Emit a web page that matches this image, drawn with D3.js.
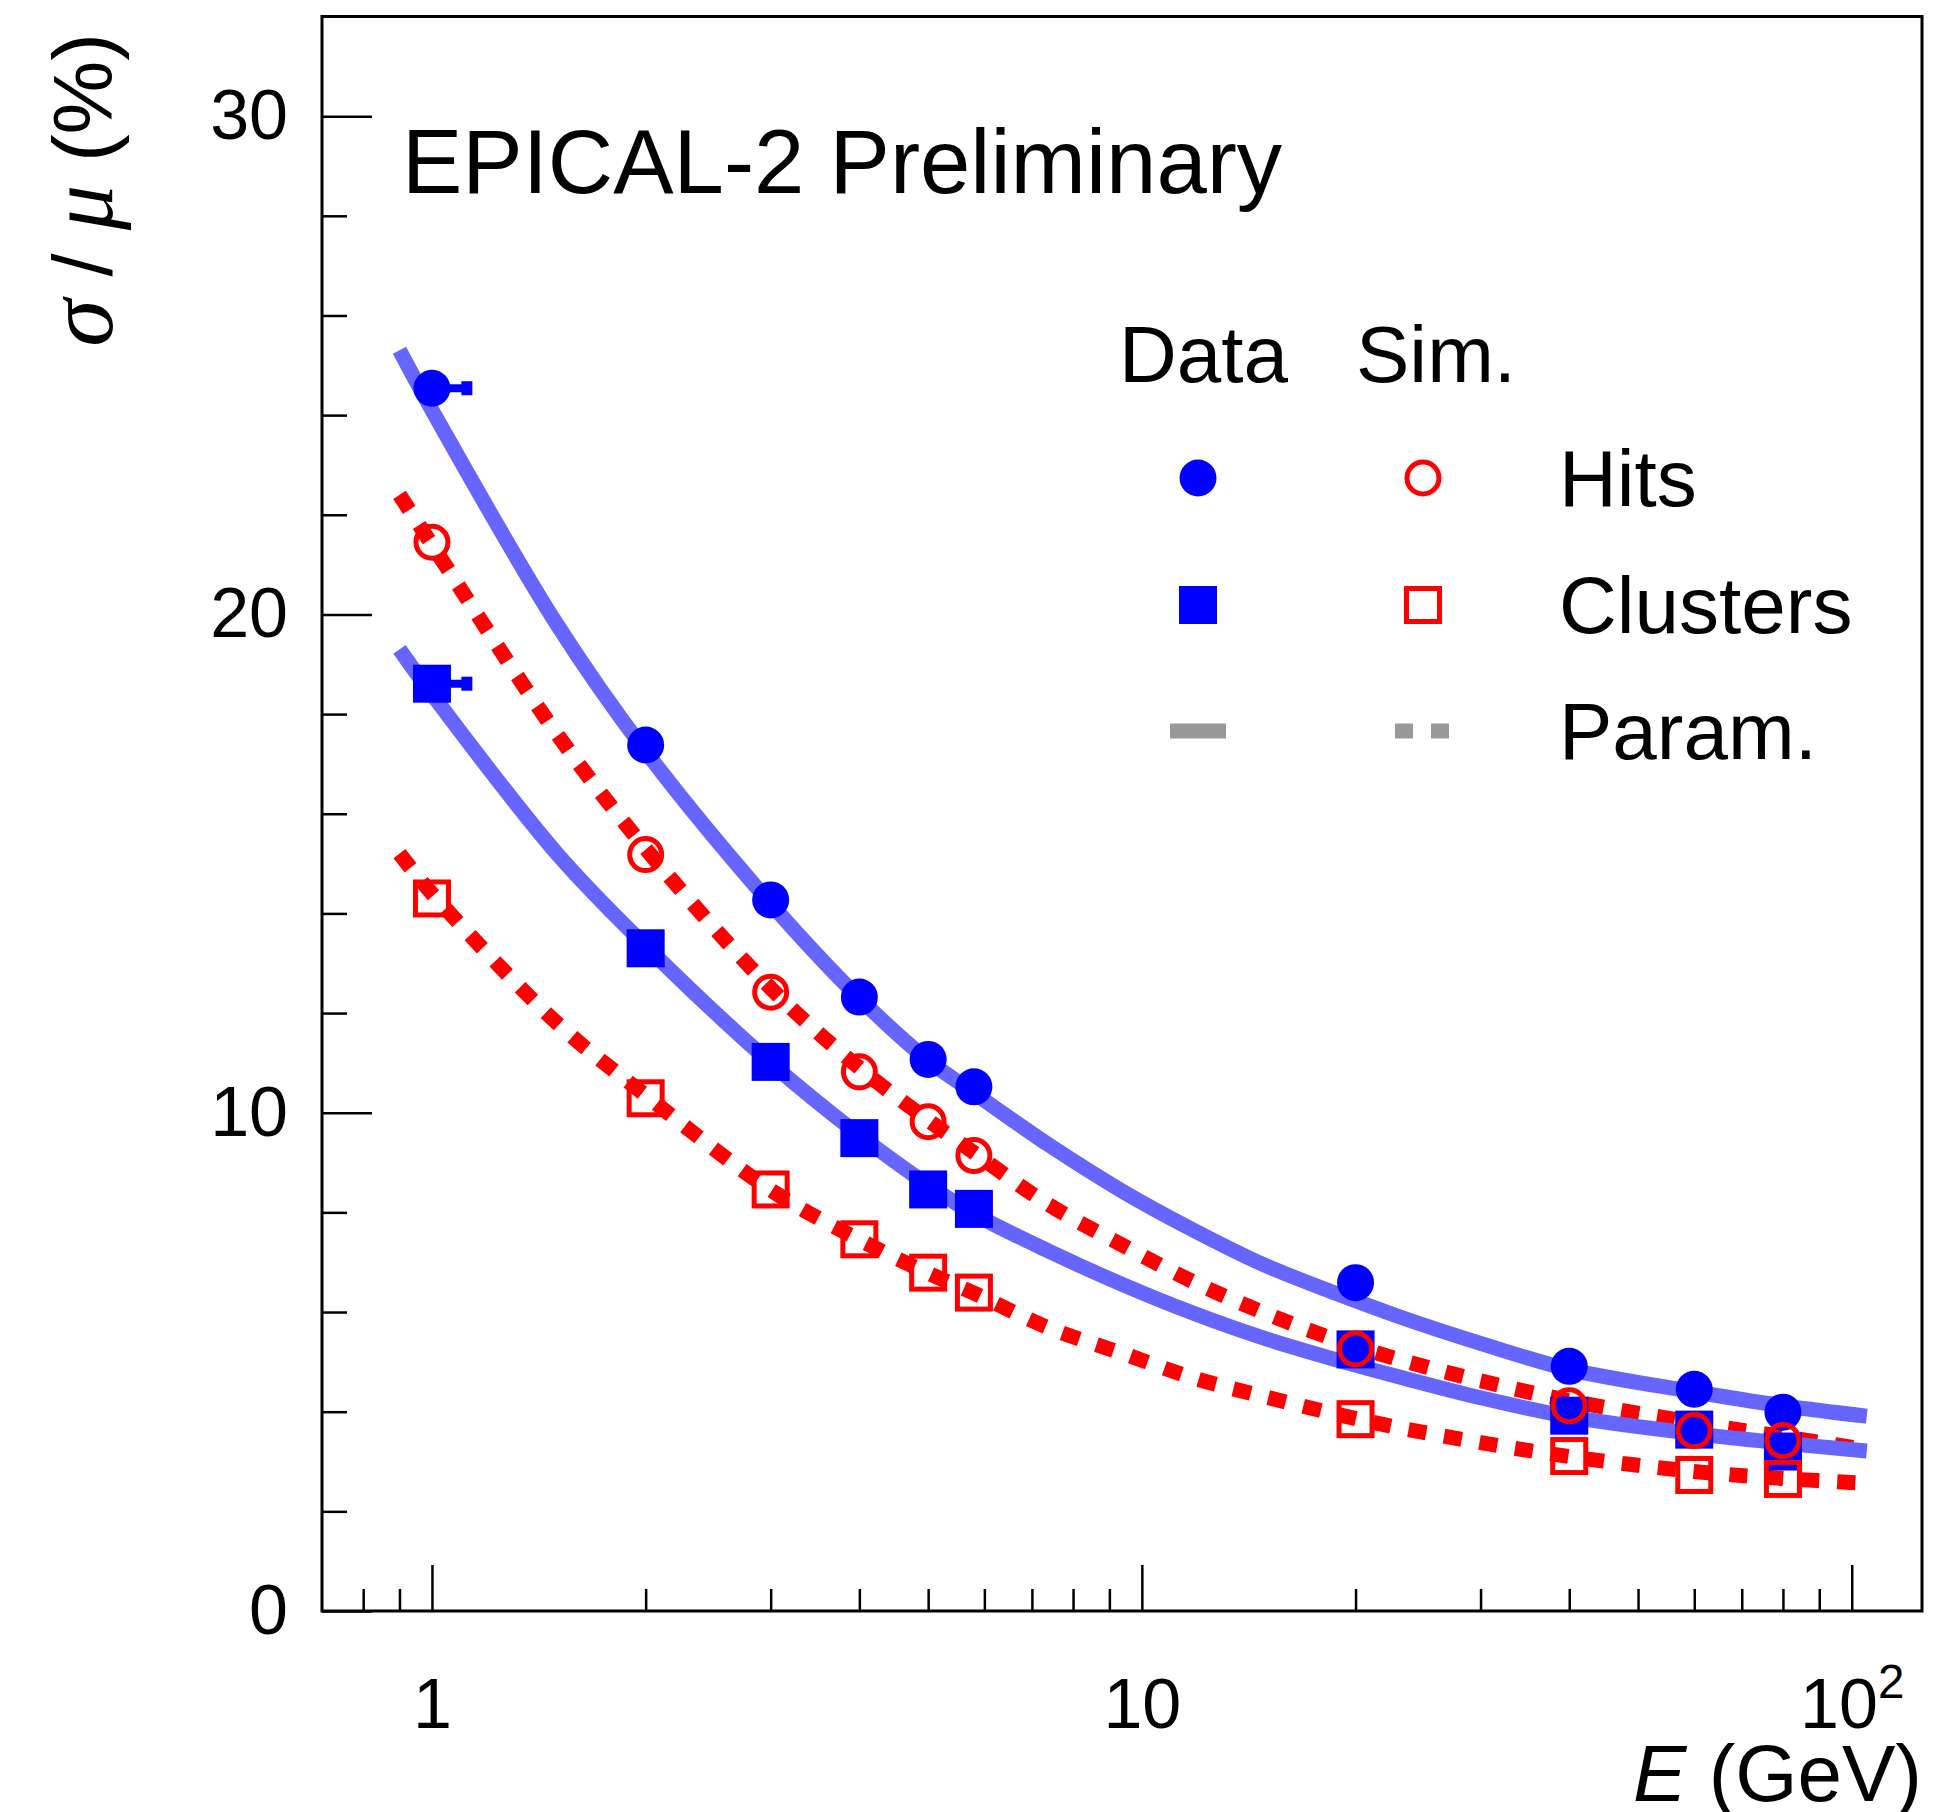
<!DOCTYPE html>
<html>
<head>
<meta charset="utf-8">
<script src="https://cdn.jsdelivr.net/npm/d3@7"></script>
<style>
  body { margin: 0; background: #fff; }
  text { font-family: "Liberation Sans", Arial, Helvetica, sans-serif; }
</style>
</head>
<body>
<script>
// beam energies (GeV) and resolutions (%)
var energies = [1, 2, 3, 4, 5, 5.8, 20, 40, 60, 80];
var dataHits = [24.54, 17.38, 14.27, 12.32, 11.07, 10.52, 6.59, 4.91, 4.45, 3.99];
var dataClusters = [18.61, 13.30, 11.02, 9.49, 8.46, 8.07, 5.25, 3.92, 3.64, 3.20];
var simHits = [21.45, 15.18, 12.42, 10.82, 9.82, 9.14, 5.26, 4.12, 3.62, 3.42];
var simClusters = [14.30, 10.29, 8.46, 7.46, 6.79, 6.39, 3.85, 3.11, 2.73, 2.65];
// upper x error, only visible at 1 GeV
var dataXErrUp = [0.14, 0, 0, 0, 0, 0, 0, 0, 0, 0];

// parametrisation curves
var paramE = [0.9, 1, 1.5, 2, 3, 4, 5, 5.8, 7.4, 9.4, 11.8, 14.9, 18.8, 23, 30, 40, 60, 80, 105];
var paramDataHits = [25.3, 24.1, 19.8, 17.25, 14.2, 12.3, 11.05, 10.40, 9.35, 8.42, 7.65, 6.94, 6.37, 5.91, 5.37, 4.85, 4.40, 4.12, 3.91];
var paramDataClusters = [19.3, 18.4, 15.2, 13.35, 11.0, 9.55, 8.55, 7.97, 7.22, 6.55, 5.98, 5.47, 5.04, 4.70, 4.28, 3.90, 3.56, 3.37, 3.21];
var paramSimHits = [22.4, 21.4, 17.6, 15.3, 12.5, 10.9, 9.85, 9.2, 8.15, 7.34, 6.61, 5.98, 5.44, 5.05, 4.62, 4.22, 3.78, 3.50, 3.24];
var paramSimClusters = [15.2, 14.4, 11.8, 10.35, 8.45, 7.45, 6.78, 6.38, 5.68, 5.17, 4.68, 4.30, 3.95, 3.68, 3.38, 3.10, 2.80, 2.66, 2.56];

var yMajor = [0, 10, 20, 30];
var yMinor = [2, 4, 6, 8, 12, 14, 16, 18, 22, 24, 26, 28];
var xMajor = [1, 10, 100];
var xMinor = [0.8, 0.9, 2, 3, 4, 5, 6, 7, 8, 9, 20, 30, 40, 50, 60, 70, 80, 90];

var width = 1957, height = 1812;
var margin = {top: 16.5, right: 35, bottom: 201, left: 322};

var svg = d3.select("body").append("svg")
    .attr("width", width)
    .attr("height", height);

var x = d3.scaleLog()
    .domain([0.7, 125.6])
    .range([margin.left, width - margin.right]);

var y = d3.scaleLinear()
    .domain([0, 32])
    .range([height - margin.bottom, margin.top]);

var blueLine = "#6666ff", blue = "#0000ff", red = "#ff0000", grey = "#999999";

// axes
var yAxis = svg.append("g")
    .attr("transform", "translate(" + margin.left + ",0)")
    .call(d3.axisLeft(y).tickValues(yMajor).tickSize(-50).tickPadding(34));
var yAxisMinor = svg.append("g")
    .attr("transform", "translate(" + margin.left + ",0)")
    .call(d3.axisLeft(y).tickValues(yMinor).tickSize(-25).tickFormat(""));

var xAxis = svg.append("g")
    .attr("transform", "translate(0," + (height - margin.bottom) + ")")
    .call(d3.axisBottom(x).tickValues(xMajor).tickSize(-46).tickPadding(67)
      .tickFormat(function(d) { return d === 100 ? "10" : d; }));
var xAxisMinor = svg.append("g")
    .attr("transform", "translate(0," + (height - margin.bottom) + ")")
    .call(d3.axisBottom(x).tickValues(xMinor).tickSize(-22).tickFormat(""));

[yAxis, yAxisMinor, xAxis, xAxisMinor].forEach(function(g) {
  g.select(".domain").remove();
  g.selectAll(".tick line").attr("stroke", "#000").attr("stroke-width", 2.5);
  g.selectAll(".tick text").attr("font-size", 70).attr("fill", "#000")
    .attr("font-family", "Liberation Sans, Arial, sans-serif");
});
xAxis.selectAll(".tick text").filter(function(d) { return d === 100; })
    .append("tspan")
    .attr("dy", "-0.62em")
    .attr("font-size", "0.68em")
    .text("2");

// frame
svg.append("rect")
    .attr("x", margin.left)
    .attr("y", margin.top)
    .attr("width", width - margin.left - margin.right)
    .attr("height", height - margin.top - margin.bottom)
    .attr("fill", "none")
    .attr("stroke", "#000")
    .attr("stroke-width", 3);

// curves
var line = d3.line()
    .x(function(d) { return x(d[0]); })
    .y(function(d) { return y(d[1]); })
    .curve(d3.curveCatmullRom.alpha(0.5));

function drawParam(values, color, dashed) {
  var p = svg.append("path")
      .datum(d3.zip(paramE, values))
      .attr("d", line)
      .attr("fill", "none")
      .attr("stroke", color)
      .attr("stroke-width", 15);
  if (dashed) p.attr("stroke-dasharray", "18,18");
}
drawParam(paramSimHits, red, true);
drawParam(paramSimClusters, red, true);
drawParam(paramDataHits, blueLine, false);
drawParam(paramDataClusters, blueLine, false);

// error bars on data
function drawXErr(values) {
  energies.forEach(function(e, i) {
    if (dataXErrUp[i] <= 0) return;
    var x0 = x(e), x1 = x(e + dataXErrUp[i]), yy = y(values[i]);
    svg.append("line")
        .attr("x1", x0).attr("x2", x1 - 5)
        .attr("y1", yy).attr("y2", yy)
        .attr("stroke", blue).attr("stroke-width", 8);
    svg.append("rect")
        .attr("x", x1 - 11).attr("y", yy - 7)
        .attr("width", 11).attr("height", 14)
        .attr("fill", blue);
  });
}
drawXErr(dataHits);
drawXErr(dataClusters);

// markers
function circles(values, filled) {
  svg.append("g").selectAll("circle")
    .data(d3.zip(energies, values))
    .enter().append("circle")
      .attr("cx", function(d) { return x(d[0]); })
      .attr("cy", function(d) { return y(d[1]); })
      .attr("r", filled ? 18.5 : 16)
      .attr("fill", filled ? blue : "none")
      .attr("stroke", filled ? "none" : red)
      .attr("stroke-width", 5);
}
function squares(values, filled) {
  var s = filled ? 38 : 33;
  svg.append("g").selectAll("rect")
    .data(d3.zip(energies, values))
    .enter().append("rect")
      .attr("x", function(d) { return x(d[0]) - s / 2; })
      .attr("y", function(d) { return y(d[1]) - s / 2; })
      .attr("width", s)
      .attr("height", s)
      .attr("fill", filled ? blue : "none")
      .attr("stroke", filled ? "none" : red)
      .attr("stroke-width", 5);
}
squares(dataClusters, true);
circles(dataHits, true);
circles(simHits, false);
squares(simClusters, false);

// texts
svg.append("text")
    .attr("x", 402).attr("y", 193)
    .attr("font-size", 90.5)
    .text("EPICAL-2 Preliminary");

var xt = svg.append("text")
    .attr("x", width - margin.right).attr("y", 1801)
    .attr("text-anchor", "end")
    .attr("font-size", 80);
xt.append("tspan").attr("font-style", "italic").text("E");
xt.append("tspan").text(" (GeV)");

var yt = svg.append("text")
    .attr("transform", "translate(112,33) rotate(-90)")
    .attr("text-anchor", "end")
    .attr("font-size", 83);
yt.append("tspan").attr("font-family", "Liberation Serif, serif").attr("font-style", "italic")
    .attr("font-size", 96).text("\u03c3");
yt.append("tspan").text(" / ");
yt.append("tspan").attr("font-family", "Liberation Serif, serif").attr("font-style", "italic")
    .attr("font-size", 90).text("\u03bc");
yt.append("tspan").text(" (%)");

// legend
var legX = [1198, 1423], legRows = [478, 605, 731];
svg.append("text").attr("x", 1119).attr("y", 382).attr("font-size", 80).text("Data");
svg.append("text").attr("x", 1356).attr("y", 382).attr("font-size", 80).text("Sim.");
["Hits", "Clusters", "Param."].forEach(function(t, i) {
  svg.append("text").attr("x", 1559).attr("y", legRows[i] + 28)
      .attr("font-size", 80).text(t);
});
svg.append("circle").attr("cx", legX[0]).attr("cy", legRows[0]).attr("r", 18.5).attr("fill", blue);
svg.append("circle").attr("cx", legX[1]).attr("cy", legRows[0]).attr("r", 16)
    .attr("fill", "none").attr("stroke", red).attr("stroke-width", 5);
svg.append("rect").attr("x", legX[0] - 19).attr("y", legRows[1] - 19)
    .attr("width", 38).attr("height", 38).attr("fill", blue);
svg.append("rect").attr("x", legX[1] - 16.5).attr("y", legRows[1] - 16.5)
    .attr("width", 33).attr("height", 33)
    .attr("fill", "none").attr("stroke", red).attr("stroke-width", 5);
svg.append("line").attr("x1", legX[0] - 28).attr("x2", legX[0] + 28)
    .attr("y1", legRows[2]).attr("y2", legRows[2])
    .attr("stroke", grey).attr("stroke-width", 15);
svg.append("line").attr("x1", legX[1] - 28).attr("x2", legX[1] + 26)
    .attr("y1", legRows[2]).attr("y2", legRows[2])
    .attr("stroke", grey).attr("stroke-width", 15)
    .attr("stroke-dasharray", "18,18");
</script>
</body>
</html>
